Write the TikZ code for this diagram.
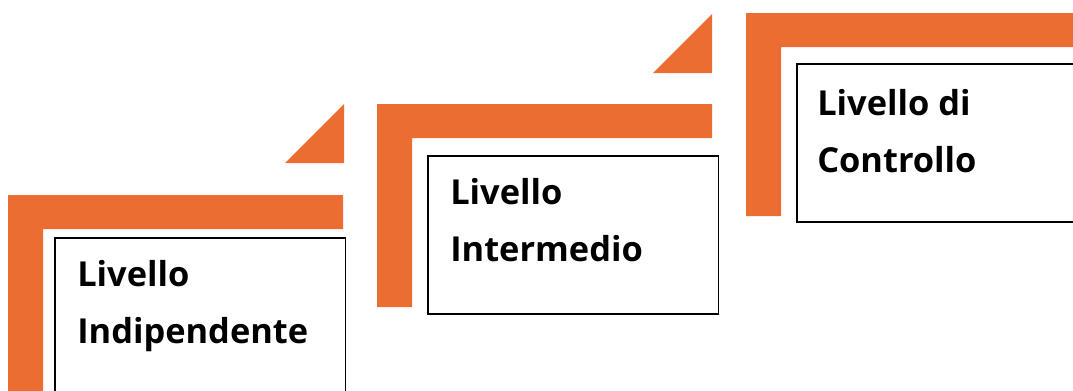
\documentclass[tikz,border=0pt]{standalone}
\usepackage{fontspec}
\setmainfont{Open Sans}
\usetikzlibrary{positioning}
\definecolor{stepor}{RGB}{236,109,49}
\tikzset{
  org/.style={fill=stepor,draw=none},
  bx/.style ={draw=black,line width=1.3pt,fill=white,anchor=north west,
              minimum width=218pt,minimum height=118.5pt,inner sep=0pt},
  txt/.style={font=\fontsize{25.8}{42.4}\selectfont\bfseries,align=left,
              anchor=base west,inner sep=0pt},
}

\begin{document}
\begin{tikzpicture}[x=0.75pt,y=-0.75pt]
  \useasboundingbox (0,0) rectangle (1073,390);
  \clip (0,0) rectangle (1073,390);
  % orange steps
  \foreach \i in {0,1,2}{
    \begin{scope}[shift={({369*\i},{-91*\i})}]
      \fill[org] (8,195) -- (343,195) -- (343,229) -- (43,229)
                 -- (43,398) -- (8,398) -- cycle;
    \end{scope}
  }
  \foreach \i in {0,1}{
    \begin{scope}[shift={({368*\i},{-90*\i})}]
      \fill[org] (285,163) -- (344,104) -- (344,163) -- cycle;
    \end{scope}
  }
  % level boxes (text base = last line)
  \node[bx] (bx1) at (54,237) {};
  \node[bx] (bx2) at (427,155) {};
  \node[bx] (bx3) at (796,63) {};
  \node[txt] (t1) at (77,343)  {Livello\\Indipendente};
  \node[txt] (t2) at (450,261) {Livello\\Intermedio};
  \node[txt] (t3) at (817,172) {Livello di\\Controllo};
\end{tikzpicture}
\end{document}
